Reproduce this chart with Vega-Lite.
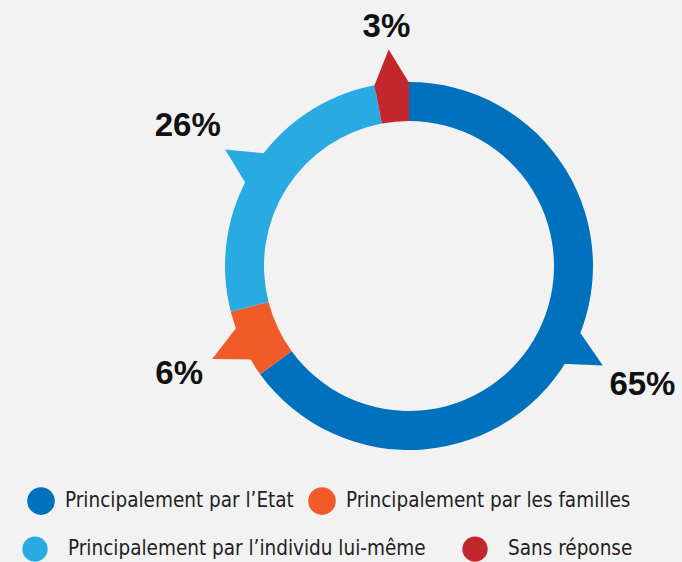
{
  "$schema": "https://vega.github.io/schema/vega-lite/v6.json",
  "width": 546,
  "height": 532,
  "autosize": {"type": "none"},
  "padding": {"left": 136, "top": 0, "right": 0, "bottom": 30},
  "background": "#f2f2f2",
  "config": {
    "view": {"stroke": null},
    "legend": {
      "orient": "none",
      "direction": "horizontal",
      "symbolType": "circle",
      "symbolOpacity": 1,
      "labelFont": "'DejaVu Sans Condensed', 'Liberation Sans Narrow', Roboto, sans-serif",
      "labelFontSize": 20.5,
      "labelColor": "#222222",
      "labelLimit": 500,
      "title": null
    }
  },
  "data": {
    "values": [
      {"cat": "Principalement par l’Etat", "value": 65, "ordre": 1, "label": "65%"},
      {"cat": "Principalement par les familles", "value": 6, "ordre": 2, "label": "6%"},
      {"cat": "Principalement par l’individu lui-même", "value": 26, "ordre": 3, "label": "26%"},
      {"cat": "Sans réponse", "value": 3, "ordre": 4, "label": "3%"}
    ]
  },
  "encoding": {
    "theta": {"field": "value", "type": "quantitative", "stack": true},
    "order": {"field": "ordre", "type": "quantitative"}
  },
  "layer": [
    {
      "mark": {"type": "text", "text": "▲", "font": "DejaVu Sans", "fontSize": 54, "radius": 199, "baseline": "middle", "align": "center"},
      "encoding": {
        "fill": {
          "field": "cat",
          "type": "nominal",
          "scale": {
            "domain": ["Principalement par l’individu lui-même", "Sans réponse", "Principalement par l’Etat", "Principalement par les familles"],
            "range": ["#29abe2", "#c1272d", "#0071bc", "#f15a29"]
          },
          "legend": {
            "values": ["Principalement par l’individu lui-même", "Sans réponse"],
            "legendX": -114,
            "legendY": 536,
            "columnPadding": 36,
            "labelOffset": 20,
            "symbolSize": 640,
            "symbolStrokeWidth": 0
          }
        },
        "angle": {"field": "cat", "type": "nominal", "scale": {"type": "ordinal", "domain": ["Principalement par l’Etat", "Principalement par les familles", "Principalement par l’individu lui-même", "Sans réponse"], "range": [119, 244, 302, 355]}, "legend": null}
      }
    },
    {
      "mark": {"type": "arc", "radius": 184, "radius2": 145},
      "encoding": {
        "color": {
          "field": "cat",
          "type": "nominal",
          "scale": {
            "domain": ["Principalement par l’Etat", "Principalement par les familles", "Principalement par l’individu lui-même", "Sans réponse"],
            "range": ["#0071bc", "#f15a29", "#29abe2", "#c1272d"]
          },
          "legend": {
            "values": ["Principalement par l’Etat", "Principalement par les familles"],
            "legendX": -109,
            "legendY": 487,
            "columnPadding": 14,
            "labelOffset": 10,
            "symbolSize": 760,
            "symbolStrokeWidth": 0
          }
        }
      }
    },
    {
      "mark": {"type": "text", "font": "Liberation Sans", "fontWeight": "bold", "fontSize": 33, "color": "#111111", "radius": {"expr": "datum.value < 5 ? 240 : (datum.value < 10 ? 254 : 262)"}, "baseline": "middle", "align": "center"},
      "encoding": {"text": {"field": "label", "type": "nominal"}}
    }
  ]
}
